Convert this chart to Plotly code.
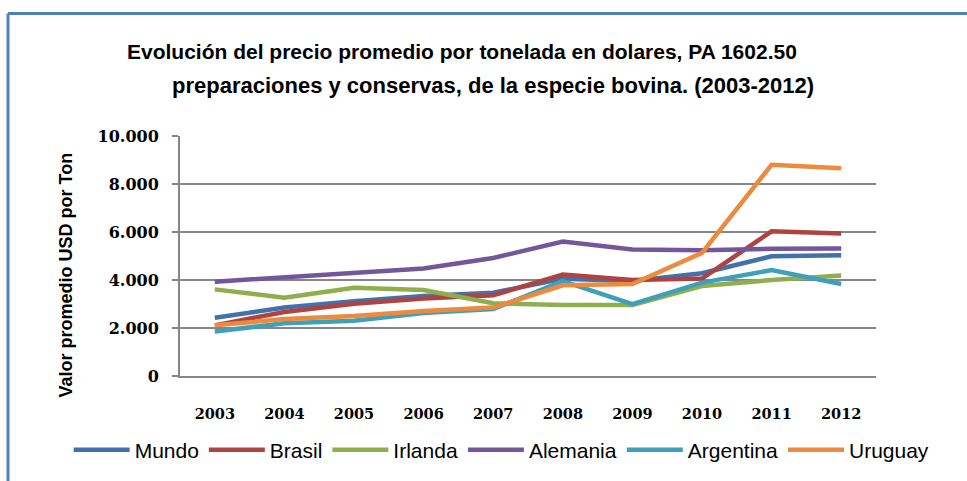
import plotly.graph_objects as go

# Precio promedio por tonelada (USD), PA 1602.50
years = ["2003", "2004", "2005", "2006", "2007", "2008", "2009", "2010", "2011", "2012"]
mundo = [2430, 2850, 3120, 3330, 3470, 4050, 3960, 4280, 4990, 5030]
brasil = [2110, 2670, 3010, 3230, 3360, 4230, 4000, 4060, 6030, 5940]
irlanda = [3610, 3260, 3680, 3580, 3030, 2960, 2960, 3750, 4000, 4190]
alemania = [3930, 4120, 4300, 4480, 4920, 5600, 5270, 5240, 5300, 5310]
argentina = [1850, 2200, 2300, 2620, 2790, 3950, 2990, 3890, 4410, 3830]
uruguay = [2110, 2370, 2500, 2710, 2850, 3780, 3830, 5130, 8800, 8660]

series = [
    ("Mundo", mundo, "#4272AC"),
    ("Brasil", brasil, "#AE4341"),
    ("Irlanda", irlanda, "#8FAE4D"),
    ("Alemania", alemania, "#72579A"),
    ("Argentina", argentina, "#40A0BA"),
    ("Uruguay", uruguay, "#EC8A3E"),
]

title_lines = [
    "Evolución del precio promedio por tonelada en dolares, PA 1602.50",
    "preparaciones y conservas, de la especie bovina. (2003-2012)",
]
y_title = "Valor promedio USD por Ton"

sans = "Liberation Sans, Arial, sans-serif"
serif = "DejaVu Serif, serif"

fig = go.Figure()
for name, vals, color in series:
    fig.add_trace(go.Scatter(
        x=years, y=vals, name=name, mode="lines",
        line=dict(color=color, width=4.5),
    ))

fig.update_layout(
    width=967, height=481,
    margin=dict(l=180, r=91, t=136, b=104),
    paper_bgcolor="white", plot_bgcolor="white",
    separators=",.",
    showlegend=True,
    legend=dict(
        orientation="h", xref="paper", yref="paper",
        x=-0.160, xanchor="left", y=-0.303, yanchor="middle",
        font=dict(family=sans, size=21, color="black"),
        itemwidth=56, traceorder="normal",
        bgcolor="rgba(0,0,0,0)",
    ),
    xaxis=dict(
        type="category", range=[-0.5, 9.5],
        showline=True, linecolor="#868686", linewidth=2,
        showgrid=False, ticks="",
        tickfont=dict(family=serif, size=14.5, color="black", weight="bold"),
        ticklabelstandoff=24,
    ),
    yaxis=dict(
        range=[0, 10000], dtick=2000, tickformat=",d",
        showline=True, linecolor="#868686", linewidth=2,
        showgrid=True, gridcolor="#868686", gridwidth=2,
        ticks="outside", ticklen=6, tickcolor="#868686", tickwidth=2,
        tickfont=dict(family=serif, size=16, color="black", weight="bold"),
        ticklabelstandoff=10,
        zeroline=False,
    ),
    annotations=[
        dict(text=title_lines[0], xref="paper", yref="paper",
             x=0.405, y=1.352, xanchor="center", yanchor="middle",
             showarrow=False,
             font=dict(family=sans, size=21, color="black", weight="bold")),
        dict(text=title_lines[1], xref="paper", yref="paper",
             x=0.450, y=1.210, xanchor="center", yanchor="middle",
             showarrow=False,
             font=dict(family=sans, size=22, color="black", weight="bold")),
        dict(text=y_title, xref="paper", yref="paper",
             x=-0.1624, y=0.423, xanchor="center", yanchor="middle",
             textangle=-90, showarrow=False,
             font=dict(family=sans, size=18, color="black", weight="bold")),
    ],
    shapes=[
        # outer frame (top and left edges)
        dict(type="line", xref="paper", yref="paper",
             x0=-0.2471, x1=1.14, y0=1.510, y1=1.510,
             line=dict(color="#4F81BD", width=3)),
        dict(type="line", xref="paper", yref="paper",
             x0=-0.2471, x1=-0.2471, y0=1.510, y1=-0.44,
             line=dict(color="#4F81BD", width=3)),
    ],
)

fig.write_html("out.html")
